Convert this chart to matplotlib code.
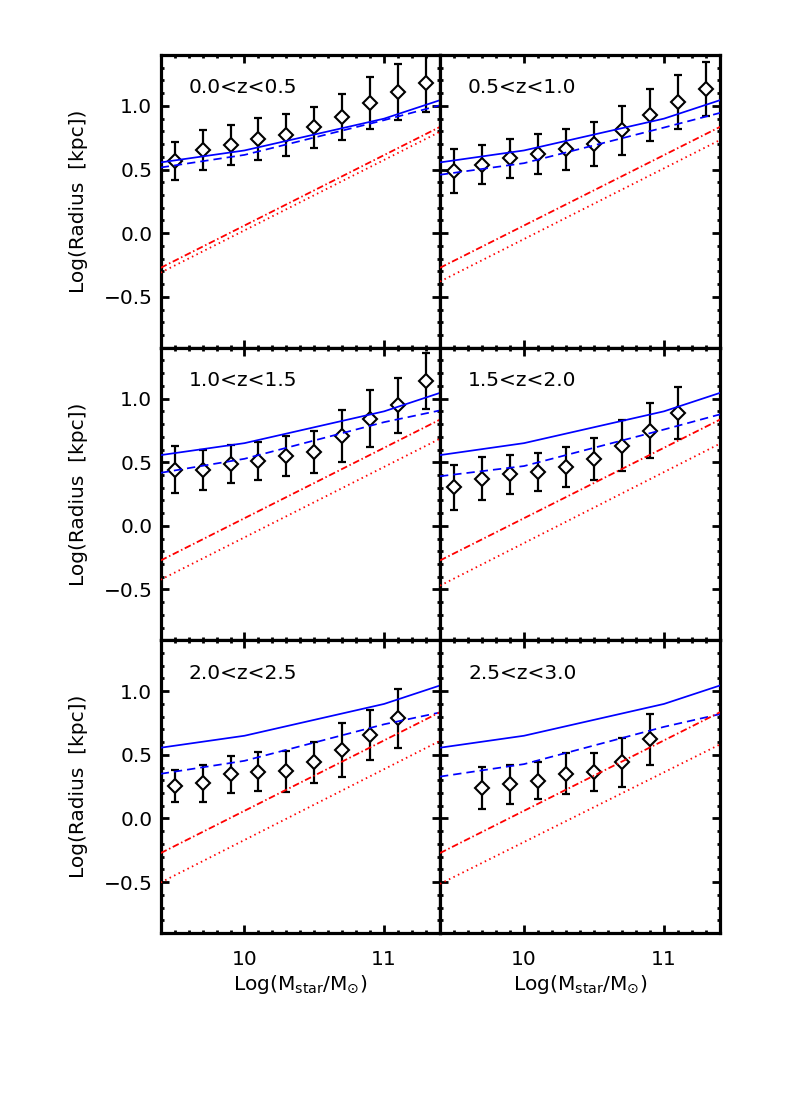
import matplotlib
matplotlib.use("Agg")
import matplotlib.pyplot as plt
from matplotlib.ticker import MultipleLocator, FuncFormatter
import numpy as np

plt.rcParams['font.family'] = ['DejaVu Sans']
plt.rcParams['lines.scale_dashes'] = False

# ---------------- data ----------------
panel_labels = ["0.0<z<0.5", "0.5<z<1.0", "1.0<z<1.5",
                "1.5<z<2.0", "2.0<z<2.5", "2.5<z<3.0"]

# model curves (same x grid)
model_x = [9.4, 10.0, 10.5, 11.0, 11.4]
solid_blue = [0.556, 0.650, 0.775, 0.900, 1.045]

dashed_x = [9.4, 10.0, 11.0, 11.4]
dashed_blue_1 = [0.516, 0.615, 0.888, 1.005]
dashed_blue_2 = [0.459, 0.550, 0.830, 0.945]
dashed_blue_3 = [0.417, 0.527, 0.815, 0.907]
dashed_blue_4 = [0.390, 0.470, 0.757, 0.876]
dashed_blue_5 = [0.351, 0.453, 0.740, 0.833]
dashed_blue_6 = [0.329, 0.427, 0.720, 0.820]

red_x = [9.4, 11.4]
dashdot_red = [-0.272, 0.835]
dotted_red_1 = [-0.310, 0.797]
dotted_red_2 = [-0.380, 0.732]
dotted_red_3 = [-0.423, 0.685]
dotted_red_4 = [-0.470, 0.646]
dotted_red_5 = [-0.503, 0.610]
dotted_red_6 = [-0.514, 0.582]

# observed data points
mass_1 = [9.5, 9.7, 9.9, 10.1, 10.3, 10.5, 10.7, 10.9, 11.1, 11.3]
size_1 = [0.565, 0.654, 0.693, 0.740, 0.771, 0.831, 0.914, 1.024, 1.110, 1.180]
err_1 = [0.150, 0.160, 0.156, 0.162, 0.163, 0.158, 0.183, 0.207, 0.217, 0.225]

mass_2 = [9.5, 9.7, 9.9, 10.1, 10.3, 10.5, 10.7, 10.9, 11.1, 11.3]
size_2 = [0.486, 0.537, 0.589, 0.622, 0.659, 0.700, 0.808, 0.927, 1.031, 1.132]
err_2 = [0.174, 0.154, 0.154, 0.156, 0.159, 0.172, 0.195, 0.206, 0.215, 0.215]

mass_3 = [9.5, 9.7, 9.9, 10.1, 10.3, 10.5, 10.7, 10.9, 11.1, 11.3]
size_3 = [0.442, 0.440, 0.483, 0.511, 0.552, 0.580, 0.706, 0.843, 0.947, 1.138]
err_3 = [0.184, 0.155, 0.150, 0.147, 0.158, 0.164, 0.203, 0.225, 0.217, 0.223]

mass_4 = [9.5, 9.7, 9.9, 10.1, 10.3, 10.5, 10.7, 10.9, 11.1]
size_4 = [0.303, 0.371, 0.404, 0.421, 0.463, 0.522, 0.631, 0.747, 0.886]
err_4 = [0.175, 0.169, 0.150, 0.148, 0.159, 0.165, 0.201, 0.216, 0.206]

mass_5 = [9.5, 9.7, 9.9, 10.1, 10.3, 10.5, 10.7, 10.9, 11.1]
size_5 = [0.255, 0.275, 0.346, 0.369, 0.371, 0.441, 0.538, 0.657, 0.786]
err_5 = [0.124, 0.149, 0.147, 0.155, 0.161, 0.162, 0.216, 0.199, 0.230]

mass_6 = [9.7, 9.9, 10.1, 10.3, 10.5, 10.7, 10.9]
size_6 = [0.236, 0.268, 0.298, 0.351, 0.366, 0.441, 0.622]
err_6 = [0.165, 0.156, 0.142, 0.160, 0.152, 0.193, 0.198]

dashed_list = [dashed_blue_1, dashed_blue_2, dashed_blue_3,
               dashed_blue_4, dashed_blue_5, dashed_blue_6]
dotted_list = [dotted_red_1, dotted_red_2, dotted_red_3,
               dotted_red_4, dotted_red_5, dotted_red_6]
mass_list = [mass_1, mass_2, mass_3, mass_4, mass_5, mass_6]
size_list = [size_1, size_2, size_3, size_4, size_5, size_6]
err_list = [err_1, err_2, err_3, err_4, err_5, err_6]

xticks = [10, 11]
yticks = [-0.5, 0.0, 0.5, 1.0]

# ---------------- figure ----------------
fig = plt.figure(figsize=(8, 11), dpi=100)

col_left = [160.7 / 800, 440 / 800]
col_w = [279.3 / 800, 280 / 800]
row_top_px = [55, 347.7, 640.3]
row_h_px = 292.7

FS = 14.5

yfmt = FuncFormatter(lambda v, p: f"{v:.1f}".replace('-', '\u2212'))

for i in range(6):
    r, c = divmod(i, 2)
    bottom = 1 - (row_top_px[r] + row_h_px) / 1100
    ax = fig.add_axes([col_left[c], bottom, col_w[c], row_h_px / 1100])
    ax.set_xlim(9.4, 11.4)
    ax.set_ylim(-0.9, 1.4)

    # model lines
    ax.plot(model_x, solid_blue, color='#0000ff', lw=1.25, zorder=4)
    ax.plot(dashed_x, dashed_list[i], color='#0000ff', lw=1.25,
            dashes=(6.0, 3.6), zorder=4)
    ax.plot(red_x, dashdot_red, color='#ff0000', lw=1.3,
            dashes=(4.8, 1.9, 1.1, 1.9), zorder=4)
    ax.plot(red_x, dotted_list[i], color='#ff0000', lw=1.3,
            dashes=(1.1, 2.5), zorder=4)

    # data
    ax.errorbar(mass_list[i], size_list[i], yerr=err_list[i], fmt='none',
                ecolor='black', elinewidth=1.6, capsize=3, capthick=1.6,
                zorder=2)
    ax.plot(mass_list[i], size_list[i], linestyle='none', marker='D',
            markersize=6.8, markerfacecolor='white', markeredgecolor='black',
            markeredgewidth=1.5, zorder=3)

    ax.text(0.10, 0.888, panel_labels[i], transform=ax.transAxes,
            fontsize=FS, ha='left', va='center')

    # axes style
    for sp in ax.spines.values():
        sp.set_linewidth(2.3)
    ax.set_xticks(xticks)
    ax.set_yticks(yticks)
    ax.xaxis.set_minor_locator(MultipleLocator(0.1))
    ax.yaxis.set_minor_locator(MultipleLocator(0.1))
    ax.yaxis.set_major_formatter(yfmt)
    ax.tick_params(which='both', direction='in', top=True, right=True,
                   labelsize=FS, width=2.0)
    ax.tick_params(which='major', length=5.5)
    ax.tick_params(which='minor', length=2.2)
    ax.tick_params(axis='x', pad=12)
    ax.tick_params(axis='y', pad=6)

    if c == 0:
        ax.set_ylabel('Log(Radius  [kpc])', fontsize=FS, labelpad=11)
    else:
        ax.tick_params(axis='y', labelleft=False)
    if r == 2:
        ax.set_xlabel(r'Log(M$_{\rm star}$/M$_{\odot}$)', fontsize=FS,
                      labelpad=3)
    else:
        ax.tick_params(axis='x', labelbottom=False)

fig.savefig('out.png', dpi=100)
